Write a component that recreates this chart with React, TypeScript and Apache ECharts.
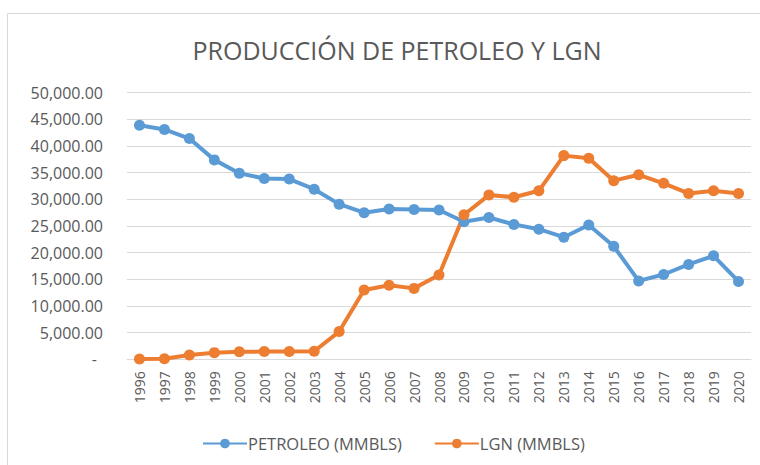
import React, { useEffect, useRef } from "react";
import * as echarts from "echarts";

const years = [
  "1996", "1997", "1998", "1999", "2000", "2001", "2002", "2003", "2004", "2005",
  "2006", "2007", "2008", "2009", "2010", "2011", "2012", "2013", "2014", "2015",
  "2016", "2017", "2018", "2019", "2020",
];
const petroleo = [
  43900, 43100, 41400, 37400, 34900, 33900, 33800, 31900, 29100, 27500,
  28200, 28100, 28000, 25800, 26600, 25300, 24400, 22900, 25200, 21200,
  14700, 15900, 17800, 19400, 14600,
];
const lgn = [
  50, 100, 800, 1250, 1400, 1450, 1450, 1500, 5200, 13000,
  13900, 13300, 15800, 27100, 30800, 30400, 31600, 38200, 37700, 33500,
  34600, 33000, 31100, 31600, 31100,
];
const title = "PRODUCCIÓN DE PETROLEO Y LGN";
const seriesNames = ["PETROLEO (MMBLS)", "LGN (MMBLS)"];

const FONT = "'Open Sans', sans-serif";
const TXT = "#595959";

export default function App() {
  const ref = useRef<HTMLDivElement>(null);
  useEffect(() => {
    if (!ref.current) return;
    const chart = echarts.init(ref.current, null, { renderer: "svg" });
    chart.setOption({
      animation: false,
      backgroundColor: "#ffffff",
      textStyle: { fontFamily: FONT },
      graphic: [
        {
          type: "rect",
          shape: { x: 7.5, y: 13.5, width: 800, height: 500 },
          style: { fill: "none", stroke: "#d9d9d9", lineWidth: 1 },
          silent: true,
        },
      ],
      title: {
        text: title,
        left: 392,
        textAlign: "center",
        top: 32,
        textStyle: { fontFamily: FONT, fontSize: 25, fontWeight: "normal", color: TXT },
      },
      legend: {
        top: 430,
        left: 197,
        itemWidth: 44,
        itemHeight: 12,
        itemGap: 32,
        textStyle: { fontFamily: FONT, fontSize: 16.5, color: TXT, padding: [0, 0, 0, -4] },
        data: seriesNames,
      },
      grid: { left: 127, right: 9, top: 92.7, bottom: 105.7 },
      xAxis: {
        type: "category",
        data: years,
        boundaryGap: true,
        axisLine: { lineStyle: { color: "#d9d9d9" } },
        axisTick: { show: false },
        axisLabel: { rotate: 90, margin: 12, fontSize: 14, color: TXT, fontFamily: FONT, interval: 0 },
      },
      yAxis: {
        type: "value",
        min: 0,
        max: 50000,
        interval: 5000,
        axisLine: { show: false },
        axisTick: { show: false },
        splitLine: { lineStyle: { color: "#d9d9d9", width: 1 } },
        axisLabel: {
          margin: 24,
          fontSize: 16,
          color: TXT,
          fontFamily: FONT,
          formatter: (v: number) =>
            v === 0
              ? "{z|-}"
              : v.toLocaleString("en-US", { minimumFractionDigits: 2, maximumFractionDigits: 2 }),
          rich: { z: { padding: [0, 6, 0, 0], fontSize: 16, color: TXT, fontFamily: FONT } },
        },
      },
      series: [
        {
          name: seriesNames[0],
          type: "line",
          data: petroleo,
          symbol: "circle",
          symbolSize: 11,
          color: "#5B9BD5",
          lineStyle: { width: 4, color: "#5B9BD5" },
          itemStyle: { color: "#5B9BD5" },
        },
        {
          name: seriesNames[1],
          type: "line",
          data: lgn,
          symbol: "circle",
          symbolSize: 11,
          color: "#ED7D31",
          lineStyle: { width: 4, color: "#ED7D31" },
          itemStyle: { color: "#ED7D31" },
        },
      ],
    });
    return () => chart.dispose();
  }, []);
  return (
    <div
      ref={ref}
      style={{ position: "absolute", left: 0, top: 0, width: 760, height: 465 }}
    />
  );
}
